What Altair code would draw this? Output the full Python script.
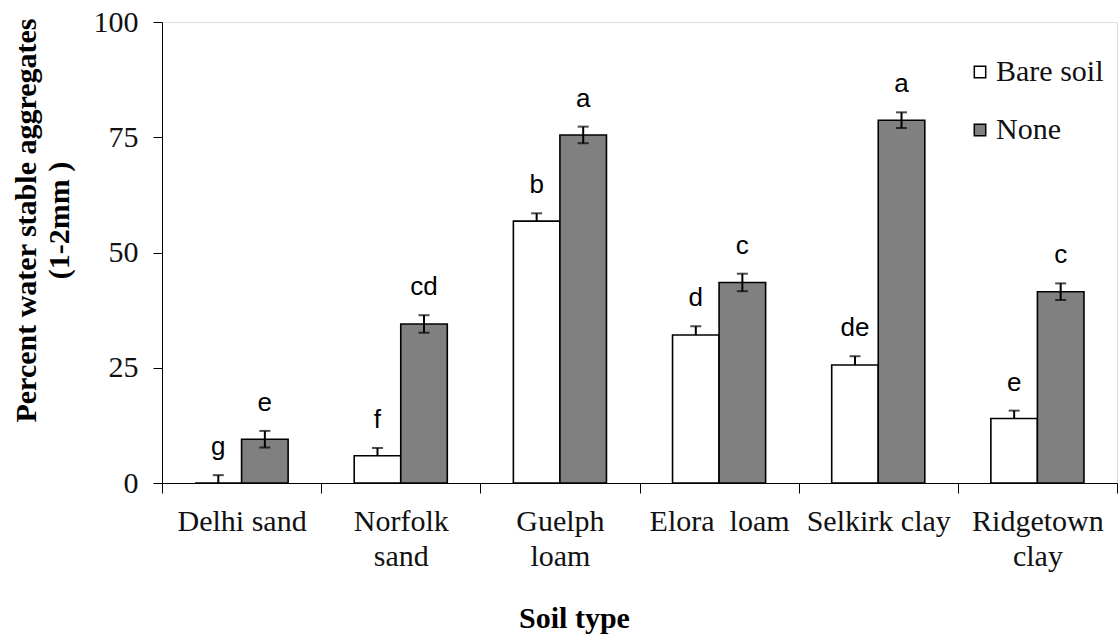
import altair as alt
import pandas as pd

soils = ["Delhi sand", "Norfolk|sand", "Guelph|loam", "Elora\u00a0 loam", "Selkirk clay", "Ridgetown|clay"]
treatments = ["Bare soil", "None"]
bare_values = [0.0, 5.9, 56.8, 32.1, 25.6, 14.0]
none_values = [9.5, 34.5, 75.5, 43.5, 78.7, 41.5]
bare_err = [1.7, 1.7, 1.7, 1.9, 1.9, 1.7]
none_err = [1.8, 1.9, 1.8, 1.9, 1.7, 1.8]
bare_letters = ["g", "f", "b", "d", "de", "e"]
none_letters = ["e", "cd", "a", "c", "a", "c"]

rows = []
for i, s in enumerate(soils):
    rows.append({"soil": s, "treatment": "Bare soil", "value": bare_values[i],
                 "low": bare_values[i], "high": bare_values[i] + bare_err[i], "letter": bare_letters[i]})
    rows.append({"soil": s, "treatment": "None", "value": none_values[i],
                 "low": none_values[i] - none_err[i], "high": none_values[i] + none_err[i], "letter": none_letters[i]})
df = pd.DataFrame(rows)

serif = "Liberation Serif"

xenc = alt.X("soil:N", sort=soils, scale=alt.Scale(paddingInner=0, paddingOuter=0),
             axis=alt.Axis(title="Soil type", labelExpr="split(datum.label, '|')",
                           labelFont=serif, labelFontSize=30, labelLineHeight=35, labelAngle=0,
                           labelColor="#111", labelPadding=13, tickSize=10, tickBand="extent",
                           tickColor="black", domainColor="black", tickWidth=1, domainWidth=1,
                           titleFont=serif, titleFontSize=30, titleFontWeight="bold", titleColor="black",
                           titleX=412, titleY=144, titleBaseline="alphabetic"))
xoff = alt.XOffset("treatment:N", sort=treatments, scale=alt.Scale(paddingOuter=0.71, paddingInner=0))
yscale = alt.Scale(domain=[0, 100], nice=False)

base = alt.Chart(df)

bars = base.mark_bar(stroke="black", strokeWidth=1.6).encode(
    x=xenc, xOffset=xoff,
    y=alt.Y("value:Q", scale=yscale,
            axis=alt.Axis(values=[0, 25, 50, 75, 100], grid=False, tickSize=9, tickColor="black",
                          domainColor="black", labelFont=serif, labelFontSize=30, labelColor="#111",
                          labelPadding=15,
                          title=["Percent water stable aggregates", "(1-2mm )"],
                          titleFont=serif, titleFontSize=30, titleFontWeight="bold", titleColor="black",
                          titleLineHeight=33, titleBaseline="middle", titleX=-136, titleY=198)),
    fill=alt.Fill("treatment:N", sort=treatments,
                  scale=alt.Scale(domain=treatments, range=["white", "#808080"]),
                  legend=alt.Legend(title=None, orient="none", legendX=803, legendY=35,
                                    symbolType="square", symbolSize=130, symbolStrokeColor="black",
                                    symbolStrokeWidth=1.5, labelFont=serif, labelFontSize=30,
                                    labelColor="#111", rowPadding=28, labelOffset=1)),
)

rules = base.mark_rule(color="black", strokeWidth=2).encode(
    x=alt.X("soil:N", sort=soils), xOffset=xoff,
    y=alt.Y("low:Q", scale=yscale), y2="high:Q")

caps_top = base.mark_tick(color="black", thickness=2, size=11).encode(
    x=alt.X("soil:N", sort=soils), xOffset=xoff,
    y=alt.Y("high:Q", scale=yscale))

caps_low = base.mark_tick(color="black", thickness=2, size=11).encode(
    x=alt.X("soil:N", sort=soils), xOffset=xoff,
    y=alt.Y("low:Q", scale=yscale)).transform_filter(alt.datum.treatment == "None")

letters = base.mark_text(font="Liberation Sans", fontSize=26, baseline="alphabetic", dy=-20,
                         color="black").encode(
    x=alt.X("soil:N", sort=soils), xOffset=xoff,
    y=alt.Y("high:Q", scale=yscale), text="letter:N")

chart = alt.layer(bars, rules, caps_top, caps_low, letters).properties(
    width=955, height=461,
    autosize=alt.AutoSizeParams(type="none"),
    padding={"left": 162, "top": 22, "right": 3, "bottom": 154},
).configure_view(stroke=None).configure(background="white")

chart.save("out.html", embed_options={"renderer": "svg", "actions": False})
